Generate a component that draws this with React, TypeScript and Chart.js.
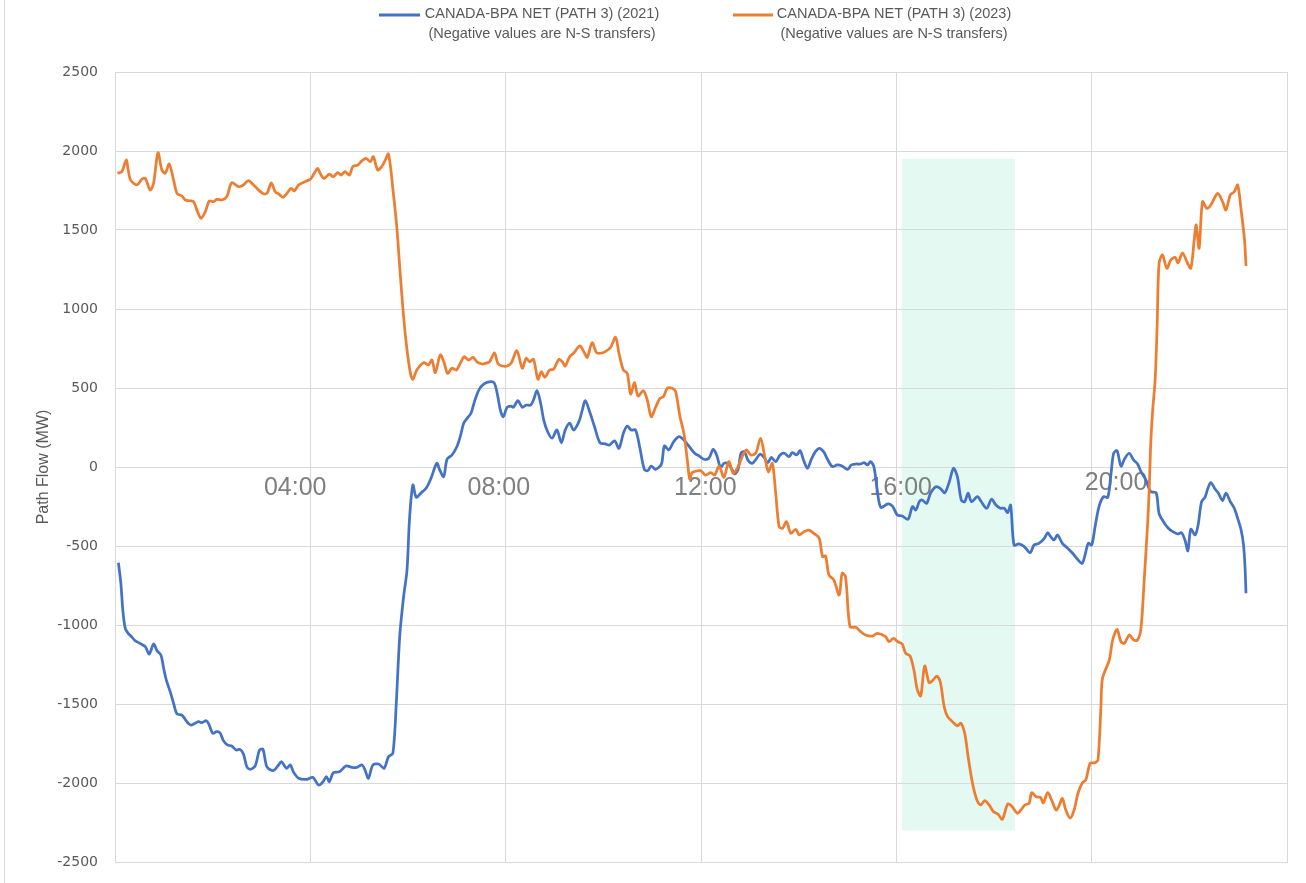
import { useEffect, useRef } from "react";
import { Chart, registerables } from "chart.js";

Chart.register(...registerables);

// Hour of day (decimal) and path flow in MW for each year
const hours2021 = [
  0.07, 0.12, 0.16, 0.21, 0.27, 0.34, 0.41, 0.51, 0.62, 0.7, 0.79, 0.86, 0.94, 0.99, 1.05, 1.13, 1.2, 1.27, 1.37,
  1.47, 1.55, 1.64, 1.71, 1.78, 1.87, 1.93, 2.0, 2.08, 2.15, 2.22, 2.3, 2.39, 2.48, 2.56, 2.63, 2.7, 2.77, 2.87,
  2.96, 3.03, 3.11, 3.24, 3.35, 3.41, 3.51, 3.59, 3.65, 3.76, 3.93, 4.05, 4.17, 4.26, 4.33, 4.39, 4.47, 4.6, 4.73,
  4.85, 4.95, 5.06, 5.12, 5.19, 5.28, 5.4, 5.51, 5.6, 5.69, 5.76, 5.83, 5.91, 5.98, 6.03, 6.1, 6.17, 6.27, 6.37,
  6.47, 6.59, 6.65, 6.73, 6.8, 6.9, 7.0, 7.07, 7.14, 7.21, 7.29, 7.36, 7.45, 7.55, 7.69, 7.77, 7.84, 7.89, 7.95,
  8.03, 8.11, 8.16, 8.25, 8.34, 8.42, 8.51, 8.57, 8.64, 8.71, 8.78, 8.86, 8.95, 9.05, 9.14, 9.22, 9.31, 9.39, 9.5,
  9.57, 9.63, 9.72, 9.82, 9.93, 10.04, 10.13, 10.23, 10.32, 10.41, 10.49, 10.57, 10.66, 10.75, 10.84, 10.91, 10.98,
  11.07, 11.19, 11.25, 11.34, 11.44, 11.55, 11.65, 11.75, 11.87, 11.96, 12.06, 12.16, 12.25, 12.32, 12.4, 12.47,
  12.55, 12.62, 12.69, 12.76, 12.82, 12.89, 12.96, 13.05, 13.14, 13.21, 13.29, 13.37, 13.44, 13.53, 13.62, 13.71,
  13.8, 13.87, 13.96, 14.03, 14.1, 14.18, 14.26, 14.33, 14.42, 14.51, 14.59, 14.69, 14.79, 14.89, 15.0, 15.08,
  15.17, 15.27, 15.34, 15.41, 15.47, 15.54, 15.6, 15.68, 15.83, 15.92, 16.02, 16.12, 16.24, 16.33, 16.4, 16.47,
  16.53, 16.62, 16.7, 16.81, 16.9, 16.99, 17.08, 17.17, 17.25, 17.33, 17.4, 17.47, 17.54, 17.66, 17.74, 17.85,
  17.95, 18.04, 18.13, 18.21, 18.28, 18.34, 18.41, 18.51, 18.62, 18.74, 18.82, 18.92, 19.03, 19.1, 19.16, 19.23,
  19.3, 19.4, 19.51, 19.61, 19.71, 19.81, 19.93, 20.0, 20.07, 20.15, 20.24, 20.33, 20.39, 20.45, 20.52, 20.6,
  20.68, 20.77, 20.86, 20.94, 21.01, 21.11, 21.21, 21.32, 21.38, 21.47, 21.57, 21.66, 21.76, 21.84, 21.91, 21.97,
  22.03, 22.12, 22.18, 22.25, 22.32, 22.38, 22.44, 22.53, 22.59, 22.68, 22.75, 22.84, 22.92, 22.99, 23.06, 23.11,
  23.14, 23.16,
];

const flow2021 = [
  -606, -736, -905, -1021, -1053, -1074, -1099, -1116, -1137, -1184, -1120, -1163, -1190, -1264, -1348, -1422,
  -1496, -1563, -1570, -1612, -1633, -1622, -1612, -1618, -1606, -1633, -1685, -1675, -1682, -1732, -1759, -1766,
  -1791, -1787, -1816, -1897, -1913, -1892, -1791, -1787, -1897, -1922, -1886, -1865, -1907, -1886, -1928, -1970,
  -1977, -1964, -2013, -1992, -1960, -1992, -1935, -1928, -1892, -1901, -1901, -1886, -1918, -1970, -1886, -1880,
  -1907, -1834, -1812, -1496, -1074, -821, -652, -335, -114, -192, -163, -135, -72, 23, -19, -61, 49, 76, 128, 192,
  277, 308, 340, 413, 487, 525, 540, 530, 445, 361, 318, 378, 386, 378, 420, 378, 392, 392, 424, 483, 413, 297, 223,
  182, 234, 154, 234, 277, 234, 287, 361, 420, 350, 255, 154, 146, 139, 166, 118, 213, 259, 234, 234, 118, -15, -23,
  6, -15, 19, 133, 108, 160, 192, 171, 133, 87, 70, 49, 55, 112, 76, -2, 23, 23, -8, -44, -15, 87, 97, 44, 23, 55,
  82, 61, 27, 61, 34, 76, 87, 65, 91, 76, 103, 44, -8, 49, 91, 118, 97, 49, 2, 13, 6, -15, 13, 19, 19, 27, 13, 34, 2,
  -125, -255, -234, -247, -304, -310, -331, -251, -272, -220, -209, -230, -166, -125, -135, -163, -99, -8, -61,
  -209, -220, -166, -220, -188, -220, -261, -204, -241, -261, -261, -289, -241, -494, -487, -504, -542, -494, -483,
  -451, -416, -441, -462, -430, -483, -515, -546, -584, -609, -483, -494, -378, -251, -188, -192, -61, 87, 103, 6,
  55, 87, 44, 19, -30, -82, -156, -163, -293, -346, -388, -409, -424, -416, -462, -530, -394, -430, -367, -220, -192,
  -135, -99, -141, -163, -213, -166, -220, -261, -325, -399, -494, -631, -799,
];

const hours2023 = [
  0.05, 0.14, 0.23, 0.27, 0.32, 0.45, 0.55, 0.62, 0.72, 0.79, 0.88, 0.96, 1.03, 1.11, 1.2, 1.27, 1.37, 1.44, 1.54,
  1.61, 1.69, 1.76, 1.85, 1.93, 2.02, 2.08, 2.19, 2.29, 2.39, 2.53, 2.63, 2.73, 2.84, 2.94, 3.05, 3.12, 3.2, 3.28,
  3.35, 3.44, 3.52, 3.61, 3.67, 3.76, 3.89, 4.0, 4.08, 4.15, 4.2, 4.28, 4.39, 4.47, 4.56, 4.63, 4.71, 4.8, 4.87,
  4.97, 5.06, 5.14, 5.23, 5.29, 5.38, 5.47, 5.53, 5.6, 5.7, 5.77, 5.84, 5.91, 5.98, 6.05, 6.1, 6.18, 6.32, 6.42,
  6.49, 6.56, 6.66, 6.74, 6.81, 6.9, 6.99, 7.07, 7.15, 7.24, 7.33, 7.41, 7.52, 7.58, 7.67, 7.77, 7.84, 7.93, 8.03,
  8.11, 8.23, 8.34, 8.42, 8.49, 8.57, 8.66, 8.73, 8.8, 8.9, 8.98, 9.09, 9.16, 9.22, 9.31, 9.39, 9.52, 9.6, 9.67,
  9.77, 9.86, 9.94, 10.04, 10.15, 10.25, 10.32, 10.41, 10.49, 10.56, 10.64, 10.71, 10.82, 10.9, 10.98, 11.07,
  11.16, 11.23, 11.31, 11.41, 11.48, 11.57, 11.65, 11.72, 11.77, 11.82, 11.99, 12.09, 12.2, 12.28, 12.37, 12.47,
  12.57, 12.66, 12.76, 12.85, 12.93, 13.02, 13.12, 13.22, 13.3, 13.38, 13.46, 13.53, 13.6, 13.67, 13.75, 13.84,
  13.94, 14.01, 14.11, 14.21, 14.31, 14.42, 14.49, 14.55, 14.62, 14.72, 14.83, 14.89, 14.96, 15.05, 15.17, 15.27,
  15.37, 15.51, 15.61, 15.78, 15.85, 15.94, 16.03, 16.12, 16.19, 16.28, 16.36, 16.43, 16.5, 16.58, 16.67, 16.74,
  16.83, 16.9, 16.98, 17.05, 17.15, 17.25, 17.32, 17.4, 17.47, 17.56, 17.65, 17.73, 17.81, 17.9, 17.99, 18.08,
  18.17, 18.28, 18.36, 18.48, 18.55, 18.63, 18.72, 18.77, 18.86, 18.95, 19.01, 19.1, 19.18, 19.27, 19.33, 19.4,
  19.47, 19.56, 19.64, 19.72, 19.81, 19.88, 19.97, 20.07, 20.13, 20.19, 20.22, 20.36, 20.43, 20.52, 20.6, 20.67,
  20.77, 20.86, 20.94, 21.01, 21.08, 21.15, 21.18, 21.21, 21.25, 21.3, 21.34, 21.38, 21.45, 21.54, 21.62, 21.71,
  21.77, 21.86, 21.95, 22.03, 22.1, 22.14, 22.2, 22.27, 22.36, 22.44, 22.58, 22.68, 22.75, 22.84, 22.92, 22.99,
  23.06, 23.13, 23.16,
];

const flow2023 = [
  1859, 1869, 1943, 1880, 1816, 1785, 1821, 1827, 1753, 1796, 1989, 1880, 1859, 1918, 1816, 1732, 1715, 1690, 1685,
  1679, 1616, 1574, 1616, 1684, 1679, 1694, 1690, 1711, 1799, 1774, 1785, 1812, 1785, 1753, 1728, 1736, 1799, 1742,
  1728, 1707, 1732, 1764, 1747, 1785, 1806, 1821, 1859, 1890, 1859, 1827, 1854, 1837, 1863, 1848, 1869, 1848, 1901,
  1911, 1939, 1954, 1932, 1964, 1880, 1905, 1939, 1981, 1732, 1521, 1226, 951, 741, 593, 555, 614, 660, 646, 677,
  597, 709, 660, 593, 625, 614, 656, 698, 677, 694, 666, 652, 656, 666, 723, 656, 639, 639, 656, 736, 625, 688, 666,
  682, 555, 603, 568, 614, 618, 682, 666, 639, 698, 720, 766, 730, 694, 787, 723, 720, 730, 758, 821, 720, 614, 593,
  462, 534, 449, 483, 424, 318, 378, 435, 445, 498, 498, 477, 318, 213, 44, -78, -36, -23, -51, -36, -51, 6, -65, 34,
  -40, 2, 70, 108, 76, 87, 182, 76, -30, 23, -166, -378, -388, -346, -420, -394, -430, -409, -399, -420, -451, -568,
  -563, -684, -715, -810, -673, -694, -1011, -1015, -1042, -1063, -1070, -1053, -1074, -1106, -1084, -1106, -1120,
  -1179, -1196, -1285, -1411, -1449, -1259, -1365, -1353, -1323, -1359, -1517, -1580, -1612, -1639, -1622, -1685,
  -1834, -2002, -2108, -2139, -2112, -2139, -2182, -2196, -2230, -2133, -2146, -2192, -2171, -2139, -2128, -2061,
  -2087, -2091, -2125, -2061, -2108, -2171, -2146, -2097, -2171, -2223, -2171, -2065, -1998, -1981, -1875, -1872,
  -1854, -1517, -1340, -1222, -1095, -1027, -1106, -1116, -1063, -1095, -1095, -1021, -694, -335, -125, 150, 361,
  551, 888, 1289, 1342, 1258, 1310, 1327, 1293, 1356, 1299, 1258, 1437, 1532, 1384, 1679, 1637, 1658, 1732, 1679,
  1627, 1722, 1742, 1785, 1627, 1437, 1272,
];

const seriesNames = ["CANADA-BPA NET (PATH 3) (2021)", "CANADA-BPA NET (PATH 3) (2023)"];
const seriesNote = "(Negative values are N-S transfers)";
const seriesColors = ["#4472C4", "#ED7D31"];

// Hour labels written inside the plot, with their anchor (hour, MW)
const timeLabels = ["04:00", "08:00", "12:00", "16:00", "20:00"];
const timeLabelHours = [3.69, 7.86, 12.09, 16.09, 20.5];
const timeLabelFlow = [-133, -133, -133, -133, -101];

// Highlighted evening window: hours and MW extent
const windowHours = [16.11, 18.43];
const windowFlow = [-2300, 1950];

const AXIS_FONT = "'Liberation Sans', Arial, sans-serif";

const toPoints = (xs: number[], ys: number[]) => xs.map((x, i) => ({ x, y: ys[i] }));

const decorPlugin = {
  id: "decor",
  beforeDraw(chart: any) {
    const { ctx, width, height, scales } = chart;
    ctx.save();
    ctx.fillStyle = "#ffffff";
    ctx.fillRect(0, 0, width, height);
    // outer frame edge on the left
    ctx.strokeStyle = "#d9d9d9";
    ctx.lineWidth = 1;
    ctx.beginPath();
    ctx.moveTo(4.5, 0);
    ctx.lineTo(4.5, height);
    ctx.stroke();
    // shaded window
    const x0 = scales.x.getPixelForValue(windowHours[0]);
    const x1 = scales.x.getPixelForValue(windowHours[1]);
    const y0 = scales.y.getPixelForValue(windowFlow[1]);
    const y1 = scales.y.getPixelForValue(windowFlow[0]);
    ctx.fillStyle = "#e3f9f1";
    ctx.fillRect(x0, y0, x1 - x0, y1 - y0);
    ctx.restore();
  },
  beforeDatasetsDraw(chart: any) {
    const { ctx, scales } = chart;
    ctx.save();
    ctx.font = `25px ${AXIS_FONT}`;
    ctx.fillStyle = "#7f7f7f";
    ctx.textAlign = "center";
    ctx.textBaseline = "middle";
    timeLabels.forEach((t, i) => {
      ctx.fillText(t, scales.x.getPixelForValue(timeLabelHours[i]), scales.y.getPixelForValue(timeLabelFlow[i]));
    });
    ctx.restore();
  },
  afterDraw(chart: any) {
    const { ctx } = chart;
    const items = [
      { x1: 379, x2: 420, cx: 542 },
      { x1: 733, x2: 773, cx: 894 },
    ];
    ctx.save();
    items.forEach((it, i) => {
      ctx.strokeStyle = seriesColors[i];
      ctx.lineWidth = 3;
      ctx.beginPath();
      ctx.moveTo(it.x1, 15);
      ctx.lineTo(it.x2, 15);
      ctx.stroke();
      ctx.font = `14.5px ${AXIS_FONT}`;
      ctx.fillStyle = "#595959";
      ctx.textAlign = "center";
      ctx.textBaseline = "middle";
      ctx.fillText(seriesNames[i], it.cx, 14);
      ctx.fillText(seriesNote, it.cx, 34);
    });
    ctx.restore();
  },
};

export default function App() {
  const canvasRef = useRef<HTMLCanvasElement | null>(null);

  useEffect(() => {
    const canvas = canvasRef.current;
    if (!canvas) return;
    const chart = new Chart(canvas, {
      type: "line",
      data: {
        datasets: [
          {
            label: seriesNames[0],
            data: toPoints(hours2021, flow2021),
            borderColor: seriesColors[0],
            borderWidth: 2.75,
            pointRadius: 0,
            tension: 0.3,
            fill: false,
            order: 1,
          },
          {
            label: seriesNames[1],
            data: toPoints(hours2023, flow2023),
            borderColor: seriesColors[1],
            borderWidth: 2.75,
            pointRadius: 0,
            tension: 0.3,
            fill: false,
            order: 0,
          },
        ],
      },
      options: {
        animation: false,
        responsive: false,
        devicePixelRatio: 1,
        events: [],
        layout: { padding: { top: 72, bottom: 21, left: 0, right: 19 } },
        plugins: {
          legend: { display: false },
          tooltip: { enabled: false },
        },
        scales: {
          x: {
            type: "linear",
            min: 0,
            max: 24,
            ticks: { display: false, stepSize: 4 },
            grid: { color: "#d9d9d9", lineWidth: 1, drawTicks: false },
            border: { color: "#d9d9d9" },
            afterFit: (scale: any) => {
              scale.height = 0;
            },
          },
          y: {
            min: -2500,
            max: 2500,
            ticks: {
              stepSize: 500,
              padding: 17,
              color: "#595959",
              font: { family: "'DejaVu Sans', sans-serif", size: 14 },
              callback: (v: any) => String(v),
            },
            grid: { color: "#d9d9d9", lineWidth: 1, drawTicks: false },
            border: { color: "#d9d9d9" },
            title: {
              display: true,
              text: "Path Flow (MW)",
              color: "#595959",
              font: { family: AXIS_FONT, size: 16 },
              padding: { top: 34, bottom: 0 },
            },
            afterFit: (scale: any) => {
              scale.width = 115;
              scale.paddingTop = 8;
              scale.paddingBottom = 8;
            },
          },
        },
      },
      plugins: [decorPlugin],
    });
    return () => chart.destroy();
  }, []);

  return (
    <div style={{ position: "absolute", left: 0, top: 0, width: 1306, height: 883, background: "#fff" }}>
      <canvas ref={canvasRef} width={1306} height={883} style={{ display: "block", width: 1306, height: 883 }} />
    </div>
  );
}
